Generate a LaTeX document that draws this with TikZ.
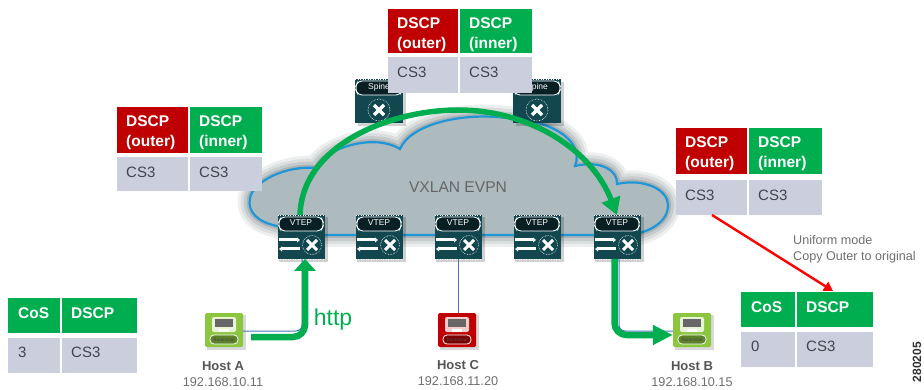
\documentclass[tikz,border=0pt]{standalone}
\usepackage{fontspec}
\setmainfont{Liberation Sans}
\usetikzlibrary{arrows.meta,calc}
\definecolor{tred}{HTML}{C00000}
\definecolor{tgreen}{HTML}{00AE50}
\definecolor{tgrey}{HTML}{CBCEDC}
\definecolor{teal}{HTML}{124750}
\definecolor{ctxt}{HTML}{444450}
\definecolor{cloudf}{HTML}{AEBBBE}
\definecolor{cloudl}{HTML}{1E96D8}
\definecolor{hgreen}{HTML}{8CC63F}
\definecolor{hred}{HTML}{C00000}
\definecolor{linkb}{HTML}{4A74B8}
\definecolor{ggrey}{HTML}{555555}
\tikzset{
 x=1pt,y=-1pt,
 hcell/.style={draw=none,anchor=north west,inner sep=0pt,font=\fontsize{15.5}{19.5}\selectfont\bfseries,text=white,align=left},
 hcos/.style={draw=none,anchor=west,inner sep=0pt,font=\fontsize{15.5}{19.5}\selectfont\bfseries,text=white},
 dcell/.style={anchor=west,inner sep=0pt,font=\fontsize{15}{17}\selectfont,text=ctxt},
 swbox/.style={fill=teal,minimum width=46pt,minimum height=43pt,inner sep=0pt,draw=teal,line width=.8pt},
 hostbox/.style={minimum width=38pt,minimum height=34pt,inner sep=0pt},
 lab/.style={font=\fontsize{13}{14}\selectfont\bfseries,text=ggrey,inner sep=0pt},
 ip/.style={font=\fontsize{12.7}{14}\selectfont,text=ggrey!85,inner sep=0pt},
 thinlink/.style={linkb,line width=1pt},
 flow/.style={tgreen,line width=6.5pt,rounded corners=12pt},
 tag/.style={font=\fontsize{8.5}{9}\selectfont,text=white,inner sep=0pt},
}
\newcommand{\dscptable}[8]{%
 \fill[tred] (#1,#4) rectangle (#2,#5);
 \fill[tgreen] (#2+2,#4) rectangle (#3,#5);
 \fill[tgrey] (#1,#6) rectangle (#2,#7);
 \fill[tgrey] (#2+2,#6) rectangle (#3,#7);
 \node[hcell] (#8o) at (#1+9,#4+8.5) {DSCP\\(outer)};
 \node[hcell] (#8i) at (#2+11,#4+8.5) {DSCP\\(inner)};
 \node[dcell] (#8a) at (#1+9,#6+15) {CS3};
 \node[dcell] (#8b) at (#2+11,#6+15) {CS3};
 \coordinate (#8) at (#2-35,#7);
}
\newcommand{\costable}[9]{%
 \fill[tgreen] (#1,#4) rectangle (#2,#5);
 \fill[tgreen] (#2+2,#4) rectangle (#3,#5);
 \fill[tgrey] (#1,#6) rectangle (#2,#7);
 \fill[tgrey] (#2+2,#6) rectangle (#3,#7);
 \node[hcos] (#8c) at (#1+10,#4+15) {CoS};
 \node[hcos] (#8d) at (#2+11,#4+15) {DSCP};
 \node[dcell] (#8e) at (#1+10,#6+14) {#9};
 \node[dcell] (#8f) at (#2+11,#6+14) {CS3};
 \coordinate (#8) at (#2+38,#4-1);
}
\newcommand{\vtep}[3]{%
 \fill[black,opacity=.18] (#2-22,217) rectangle (#2+27,262);
 \node[swbox] (#1) at (#2,#3) {};
 \draw[white,dotted,line width=.5pt] (#1.north west) -- (#1.north east);
 \draw[white,dotted,line width=.5pt] (#1.south west) -- (#1.south east);
 \draw[white,line width=.9pt,fill=black!55!teal,rounded corners=4pt] (#2-20,#3-20) -- (#2+20,#3-20) -- (#2+23,#3-13) -- (#2+20,#3-6) -- (#2-20,#3-6) -- (#2-23,#3-13) -- cycle;
 \node[tag] at (#2,#3-14) {VTEP};
 \draw[white,line width=3pt,-{Latex[length=3pt,width=6pt]}] (#2-22,#3+3) -- (#2-1,#3+3);
 \draw[white,line width=3pt,-{Latex[length=3pt,width=6pt]}] (#2-1,#3+12) -- (#2-22,#3+12);
 \draw[white,line width=.6pt,densely dotted] (#2+11,#3+8) circle (9.5);
 \draw[white,line width=3pt] (#2+6,#3+3) -- (#2+16,#3+13) (#2+6,#3+13) -- (#2+16,#3+3);
}
\newcommand{\spinesw}[3]{%
 \fill[black,opacity=.18] (#2-21,#3-19) rectangle (#2+27,#3+25);
 \node[swbox,minimum width=47pt] (#1) at (#2,#3) {};
 \draw[white,dotted,line width=.5pt] (#1.north west) -- (#1.north east);
 \draw[white,line width=.9pt,fill=black!55!teal,rounded corners=4pt] (#2-21,#3-20) -- (#2+21,#3-20) -- (#2+24,#3-13) -- (#2+21,#3-6) -- (#2-21,#3-6) -- (#2-24,#3-13) -- cycle;
 \node[tag] at (#2,#3-14) {Spine};
 \draw[white,line width=.6pt,densely dotted] (#2,#3+9) circle (11);
 \draw[white,line width=3.4pt] (#2-5,#3+4) -- (#2+5,#3+14) (#2-5,#3+14) -- (#2+5,#3+4);
}
\newcommand{\hosticon}[4]{%
 \fill[black,opacity=.15] (#2-17,#3-15) rectangle (#2+22,#3+20);
 \node[hostbox,fill=#4,rounded corners=1.5pt] (#1) at (#2,#3) {};
 \fill[white!80!#4,rounded corners=2pt] (#2-12,#3-13) rectangle (#2+12,#3+2);
 \fill[black!60] (#2-9,#3-11) rectangle (#2+9,#3-3);
 \fill[white] (#2-5,#3-1) rectangle (#2+5,#3+2);
 \draw[white,line width=.8pt,fill=#4!65!black,rounded corners=4pt] (#2-14,#3+5) rectangle (#2+14,#3+14);
 \node[inner sep=0pt,font=\fontsize{4.5}{5}\selectfont,text=black!70] at (#2,#3+9.5) {Baremetal};
}
\begin{document}
\begin{tikzpicture}
\useasboundingbox (0,0) rectangle (924,390);
\def\cloudpath{(277,226) .. controls (258,222) and (247,212) .. (250,198)
 .. controls (253,182) and (285,165) .. (317,168)
 .. controls (322,150) and (372,132) .. (400,149)
 .. controls (410,125) and (460,112) .. (507,118)
 .. controls (550,120) and (585,140) .. (575,166)
 .. controls (600,160) and (618,170) .. (617,184)
 .. controls (645,178) and (668,190) .. (668,205)
 .. controls (668,222) and (650,232) .. (630,235)
 -- (300,235) .. controls (292,235) and (285,230) .. (277,226) -- cycle}
\foreach \w/\o in {24/.07,18/.08,12/.10,6/.14}{
 \draw[black!60!teal,line width=\w pt,opacity=\o,line join=round] \cloudpath;}
\path[fill=cloudf] \cloudpath;
\draw[cloudl,line width=2.2pt] \cloudpath;
\node[font=\fontsize{15.6}{17}\selectfont,text=ggrey!90] (vx) at (458,187) {VXLAN EVPN};
\spinesw{sp1}{379}{101}
\spinesw{sp2}{537}{101}
\vtep{v1}{301}{237}
\vtep{v2}{379}{237}
\vtep{v3}{458}{237}
\vtep{v4}{537}{237}
\vtep{v5}{617}{237}
\hosticon{ha}{224}{330}{hgreen}
\hosticon{hc}{457}{330}{hred}
\hosticon{hb}{692}{330}{hgreen}
\node[lab] (la) at (223,366) {Host A};
\node[ip] (ia) at (223,382) {192.168.10.11};
\node[lab] (lc) at (458,365) {Host C};
\node[ip] (ic) at (458,381) {192.168.11.20};
\node[lab] (lb) at (692,366) {Host B};
\node[ip] (ib) at (692,382) {192.168.10.15};
\draw[thinlink,rounded corners=6pt] (ha.east|-0,331) -- (302,331) -- (v1.south-|302,0);
\draw[thinlink] (hc.north-|458,0) -- (v3.south);
\draw[thinlink,rounded corners=6pt] (v5.south-|619,0) -- (619,331) -- (hb.west|-0,331);
\draw[flow,-{Triangle[length=12pt,width=21pt]}] (251,337) -- (305,337) -- (v1.south-|305,0);
\draw[tgreen,line width=5.5pt,-{Triangle[length=17pt,width=19pt]}] (v1.north-|300,0) .. controls (302,145) and (390,110) .. (458,110) .. controls (530,110) and (592,150) .. (v5.north-|617,0);
\draw[flow,-{Triangle[length=20pt,width=19pt]}] (v5.south-|614.5,0) -- (614.5,335) -- (hb.west|-0,335);
\dscptable{117}{188}{262}{107}{153}{157}{191}{ta}
\dscptable{388}{458}{532}{9}{53}{57}{93}{tb}
\dscptable{676}{747}{822}{128}{174}{180}{215}{tc}
\costable{8}{60}{137}{298}{333}{338}{373}{td}{3}
\costable{741}{795}{873}{292}{327}{332}{367}{te}{0}
\draw[red,line width=2.4pt,-{Triangle[length=9pt,width=10pt]}] (tc) -- (te);
\node[anchor=west,align=left,inner sep=0pt,font=\fontsize{12.6}{16.5}\selectfont,text=ggrey!85] (um) at (793,249) {Uniform mode\\Copy Outer to original};
\node[font=\fontsize{23}{25}\selectfont,text=tgreen,inner sep=0pt] (ht) at (333,320) {http};
\node[rotate=90,font=\fontsize{12}{13}\selectfont\bfseries,text=black!80,inner sep=0pt] (id) at (917,362) {280205};
\end{tikzpicture}
\end{document}
